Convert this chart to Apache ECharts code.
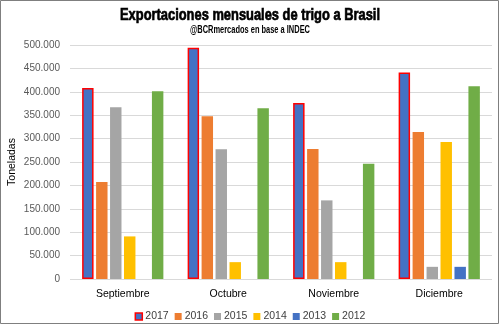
<!DOCTYPE html>
<html>
<head>
<meta charset="utf-8">
<script src="https://cdn.jsdelivr.net/npm/echarts@6/dist/echarts.min.js"></script>
<style>
  html, body { margin: 0; padding: 0; background: #fff; }
  #chart { width: 500px; height: 326px; }
</style>
</head>
<body>
<div id="chart"></div>
<script>
// Monthly wheat exports to Brazil, tonnes
const months = ['Septiembre', 'Octubre', 'Noviembre', 'Diciembre'];
const years = ['2017', '2016', '2015', '2014', '2013', '2012'];
const v2017 = [408000, 494000, 376000, 441000];
const v2016 = [207000, 348000, 278000, 314000];
const v2015 = [367000, 277000, 168000, 26000];
const v2014 = [91000, 36000, 36000, 293000];
const v2013 = [0, 0, 0, 26000];
const v2012 = [401000, 365000, 246000, 412000];
const yTicks = [0, 50000, 100000, 150000, 200000, 250000, 300000, 350000, 400000, 450000, 500000];

const titleText = 'Exportaciones mensuales de trigo a Brasil';
const subText = '@BCRmercados en base a INDEC';

const colors = ['#4472C4', '#ED7D31', '#A5A5A5', '#FFC000', '#4472C4', '#70AD47'];
const values = [v2017, v2016, v2015, v2014, v2013, v2012];

const fmt = v => v === 0 ? '0' : String(v).replace(/\B(?=(\d{3})+(?!\d))/g, '.');

// Condensed heading: squeeze a bold face horizontally to a set width
const TITLE_FONT = 'bold 17px "Liberation Sans", Arial, sans-serif';
const SUB_FONT = 'bold 10px "Liberation Sans", Arial, sans-serif';
const ctx = document.createElement('canvas').getContext('2d');
function squeeze(font, text, width) {
  ctx.font = font;
  return width / ctx.measureText(text).width;
}
const titleScale = squeeze(TITLE_FONT, titleText, 260);
const subScale = squeeze(SUB_FONT, subText, 120);

const series = years.map((y, i) => ({
  name: y,
  type: 'bar',
  data: values[i],
  barGap: '22%',
  barCategoryGap: '23%',
  itemStyle: i === 0
    ? { color: colors[i], borderColor: '#FF0000', borderWidth: 1.5 }
    : { color: colors[i] }
}));

const chart = echarts.init(document.getElementById('chart'), null, { renderer: 'canvas' });
chart.setOption({
  animation: false,
  color: colors,
  graphic: [
    {
      type: 'rect',
      shape: { x: 0.5, y: 0.5, width: 498, height: 323 },
      style: { fill: 'none', stroke: '#7f7f7f', lineWidth: 1 }
    },
    {
      type: 'text',
      x: 250, y: 15, scaleX: titleScale,
      style: {
        text: titleText, font: TITLE_FONT, fill: '#000',
        stroke: '#000', lineWidth: 0.7,
        textAlign: 'center', textVerticalAlign: 'middle'
      }
    },
    {
      type: 'text',
      x: 250, y: 30, scaleX: subScale,
      style: { text: subText, font: SUB_FONT, fill: '#000', textAlign: 'center', textVerticalAlign: 'middle' }
    }
  ],
  legend: {
    top: 306,
    left: 'center',
    itemWidth: 7,
    itemHeight: 7,
    itemGap: 6,
    textStyle: { fontFamily: 'Liberation Sans', fontSize: 10.5, color: '#404040', padding: [0, 0, 0, -2] },
    data: years.map((y, i) => ({
      name: y,
      icon: 'rect',
      itemStyle: i === 0 ? { color: colors[0], borderColor: '#FF0000', borderWidth: 1.5 } : { color: colors[i] }
    }))
  },
  grid: { left: 70, right: 8, top: 45, bottom: 47, outerBoundsMode: 'none' },
  xAxis: {
    type: 'category',
    data: months,
    axisLine: { show: false },
    axisTick: { show: false },
    axisLabel: { fontFamily: 'Liberation Sans', fontSize: 10.5, color: '#000', margin: 10 }
  },
  yAxis: {
    type: 'value',
    min: yTicks[0],
    max: yTicks[yTicks.length - 1],
    interval: yTicks[1] - yTicks[0],
    name: 'Toneladas',
    nameLocation: 'middle',
    nameGap: 52,
    nameMoveOverlap: false,
    nameTextStyle: { fontFamily: 'Liberation Sans', fontSize: 10.5, color: '#000' },
    axisLine: { show: false },
    axisTick: { show: false },
    splitLine: { lineStyle: { color: '#D9D9D9', width: 1 } },
    axisLabel: { fontFamily: 'Liberation Sans', fontSize: 10, color: '#595959', margin: 10, formatter: fmt }
  },
  series: series
});
</script>
</body>
</html>
